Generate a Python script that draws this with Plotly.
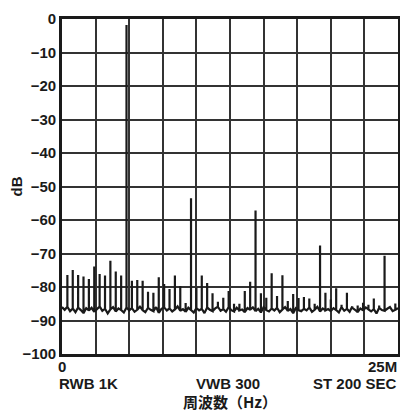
import plotly.graph_objects as go

# ---- data ----
spur_spacing_mhz = 0.4
spur_levels_db = [
    -76.4, -74.9, -76.4, -76.9, -77.6, -73.9, -76.1, -76.6, -72.2, -75.4,
    -76.6, -1.8, -78.1, -77.9, -78.1, -81.4, -81.7, -77.1, -79.1, -80.6,
    -76.6, -79.7, -84.8, -53.5, -80.2, -76.6, -78.8, -81.9, -84.4, -83.2,
    -81.2, -85.0, -85.0, -81.2, -78.4, -57.2, -81.9, -83.2, -75.9, -82.7,
    -76.5, -84.2, -82.1, -83.3, -83.0, -83.4, -85.0, -67.6, -81.7, -83.7,
    -80.4, -85.3, -81.7, -85.8, -85.5, -84.7, -85.3, -83.4, -85.5, -70.7,
    -86.0, -84.9,
]
noise_step_mhz = 0.2
noise_db = [
    -86.0, -86.8, -85.9, -87.2, -86.4, -87.5, -86.1, -86.9, -87.8, -86.3,
    -87.0, -86.2, -87.4, -86.6, -85.8, -87.1, -86.5, -87.9, -86.7, -86.0,
    -87.3, -86.4, -86.9, -87.6, -86.1, -87.0, -86.3, -87.4, -86.8, -85.9,
    -86.9, -87.5, -86.2, -86.8, -87.2, -86.0, -87.7, -86.5, -86.1, -87.0,
    -86.4, -87.3, -86.7, -85.8, -87.1, -86.6, -87.4, -86.2, -86.9, -87.6,
    -86.3, -87.0, -86.5, -87.8, -86.1, -86.8, -87.2, -86.4, -85.9, -87.1,
    -86.6, -87.4, -86.0, -86.9, -87.3, -86.2, -87.0, -86.7, -87.5, -86.3,
    -86.8, -86.1, -87.2, -86.5, -87.6, -86.0, -86.9, -87.3, -86.4, -87.0,
    -86.2, -87.5, -86.7, -86.0, -87.1, -86.6, -87.8, -86.3, -86.9, -87.2,
    -86.5, -87.0, -86.1, -87.4, -86.8, -85.9, -87.3, -86.4, -87.0, -86.6,
    -87.2, -86.3, -86.9, -87.6, -86.0, -87.1, -86.5, -87.4, -86.2, -86.8,
    -87.5, -86.4, -87.0, -86.1, -86.7, -87.3, -86.6, -87.9, -86.2, -86.9,
    -87.1, -86.5, -86.0, -87.2, -86.8, -86.3,
]
x_labels_left = ["0", "RWB 1K"]
x_label_mid = "VWB 300"
x_labels_right = ["25M", "ST 200 SEC"]
x_title = "周波数（Hz）"
y_title = "dB"

# ---- build trace: noise floor with spurs at multiples of spur spacing ----
xs, ys = [], []
for i, n in enumerate(noise_db):
    f = round(i * noise_step_mhz, 4)
    xs.append(f); ys.append(n)
    k = round(f / spur_spacing_mhz, 4)
    if k == int(k) and 1 <= int(k) <= len(spur_levels_db):
        xs += [f, f]
        ys += [spur_levels_db[int(k) - 1], n]

fig = go.Figure()
fig.add_trace(go.Scatter(x=xs, y=ys, mode="lines",
                         line=dict(color="#1a1a1a", width=2.2),
                         hoverinfo="skip", showlegend=False))

font_main = dict(family="Liberation Sans, Arial, sans-serif", size=15, color="#1a1a1a")
frame = dict(showline=True, mirror=True, linewidth=2.6, linecolor="#1a1a1a",
             showgrid=True, gridcolor="#333333", gridwidth=1.5, zeroline=False, ticks="",
             automargin=False)

fig.update_xaxes(range=[0, 25], dtick=2.5, tick0=0, showticklabels=False, **frame)
fig.update_yaxes(range=[-100, 0], dtick=10, tick0=0, tickfont=font_main, **frame)

ann = []
ann.append(dict(text="<b>" + x_labels_left[0] + "</b>", x=0, y=0, xref="paper", yref="paper",
                xanchor="center", yanchor="middle", yshift=-12, showarrow=False, font=font_main, borderpad=0))
ann.append(dict(text="<b>" + x_labels_right[0] + "</b>", x=1, y=0, xref="paper", yref="paper",
                xanchor="right", yanchor="middle", yshift=-12, showarrow=False, font=font_main, borderpad=0))
ann.append(dict(text="<b>" + x_labels_left[1] + "</b>", x=0, y=0, xref="paper", yref="paper",
                xanchor="left", yanchor="middle", xshift=-4, yshift=-29, showarrow=False, font=font_main, borderpad=0))
ann.append(dict(text="<b>" + x_label_mid + "</b>", x=0.495, y=0, xref="paper", yref="paper",
                xanchor="center", yanchor="middle", yshift=-29, showarrow=False, font=font_main, borderpad=0))
ann.append(dict(text="<b>" + x_labels_right[1] + "</b>", x=1, y=0, xref="paper", yref="paper",
                xanchor="right", yanchor="middle", yshift=-29, showarrow=False, font=font_main, borderpad=0))
ann.append(dict(text="<b>" + x_title + "</b>", x=0.5, y=0, xref="paper", yref="paper",
                xanchor="center", yanchor="middle", yshift=-47, showarrow=False,
                font=dict(family="Noto Sans CJK JP, Liberation Sans, sans-serif", size=15, color="#1a1a1a")))
ann.append(dict(text="<b>" + y_title + "</b>", x=0, y=0.5, xref="paper", yref="paper",
                xanchor="center", yanchor="middle", xshift=-46, textangle=-90,
                showarrow=False, font=font_main))
# page body has an 8px margin: figure is 400x404 so the plot lands at x 62..398, y 19..354
fig.update_layout(
    width=400, height=404,
    margin=dict(l=54, r=10, t=11, b=58, autoexpand=False),
    paper_bgcolor="white", plot_bgcolor="white",
    font=font_main,
    annotations=ann,
)
fig.update_yaxes(tickprefix="<b>", ticksuffix="</b>")
fig.write_html("out.html")
